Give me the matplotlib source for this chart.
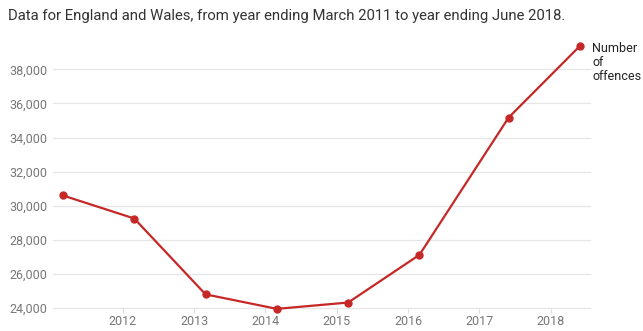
import matplotlib.pyplot as plt

# year ending March (2011-2016), then June (2017, 2018), as decimal years
years = [2011.16, 2012.16, 2013.16, 2014.16, 2015.16, 2016.16, 2017.41, 2018.41]
offences = [30600, 29250, 24800, 23950, 24320, 27120, 35170, 39370]
xticks = [2012, 2013, 2014, 2015, 2016, 2017, 2018]
yticks = [24000, 26000, 28000, 30000, 32000, 34000, 36000, 38000]
series_name = "Number\nof\noffences"
title = "Data for England and Wales, from year ending March 2011 to year ending June 2018."

plt.rcParams['font.family'] = ['Roboto', 'DejaVu Sans']
red = '#c62828'

fig = plt.figure(figsize=(6.43, 3.31), dpi=100)
ax = fig.add_axes([0.0824, 0.0695, 0.835, 0.824])

ax.plot(years, offences, color=red, lw=1.6, marker='o', ms=5, zorder=3, clip_on=False)

ax.set_xlim(2011.02, 2018.55)
ax.set_ylim(24000, 40000)
ax.set_yticks(yticks)
ax.set_yticklabels([f"{v:,}" for v in yticks])
ax.set_xticks(xticks)
ax.set_xticklabels([str(y) for y in xticks])
for v in yticks:
    ax.axhline(v, color='#e6e6e6', lw=0.9, zorder=1, clip_on=False)
for s in ax.spines.values():
    s.set_visible(False)
ax.tick_params(axis='y', length=0, pad=4, labelsize=9, labelcolor='#777777')
ax.tick_params(axis='x', length=3.5, width=0.8, color='#dddddd', pad=1.5,
               labelsize=9, labelcolor='#777777')

ax.text(years[-1] + 0.17, offences[-1] + 250, series_name, fontsize=9, color='#222222',
        va='top', ha='left', linespacing=1.1)

fig.text(0.012, 0.952, title, fontsize=10.7, color='#333333', va='center', ha='left')

fig.savefig('out.png', dpi=100)
